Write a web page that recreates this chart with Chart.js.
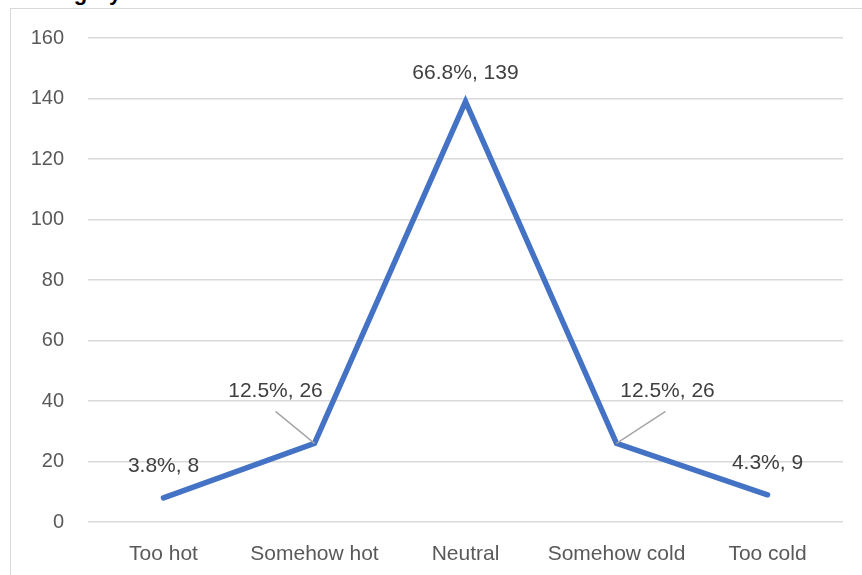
<!DOCTYPE html>
<html>
<head>
<meta charset="utf-8">
<script src="https://cdn.jsdelivr.net/npm/chart.js@4/dist/chart.umd.min.js"></script>
<style>
  html, body { margin: 0; padding: 0; background: #fff; overflow: hidden; }
  #wrap { position: relative; width: 862px; height: 575px; }
  #frame { position: absolute; left: 10px; top: 8px; width: 900px; height: 600px; border: 1.5px solid #d9d9d9; }
  #title { position: absolute; left: 26px; top: -20px; font: bold 22px "Liberation Sans", Arial, sans-serif; color: #000; }
  canvas { position: absolute; left: 0; top: 0; }
</style>
</head>
<body>
<div id="wrap">
  <div id="frame"></div>
  <div id="title">Category</div>
  <canvas id="chart" width="862" height="575"></canvas>
</div>
<script>
const categories = ["Too hot", "Somehow hot", "Neutral", "Somehow cold", "Too cold"];
const counts = [8, 26, 139, 26, 9];
const percents = ["3.8%", "12.5%", "66.8%", "12.5%", "4.3%"];
const yTicks = [0, 20, 40, 60, 80, 100, 120, 140, 160];

// label offsets from each point (dx, dy) and whether a leader line is drawn
const labelOffsets = [[0, -32, false], [-39, -52, true], [0, -28, false], [51, -52, true], [0, -32, false]];

const dataLabels = {
  id: "dataLabels",
  afterDatasetsDraw(chart) {
    const ctx = chart.ctx;
    const meta = chart.getDatasetMeta(0);
    ctx.save();
    ctx.font = "21px 'Liberation Sans', Arial, sans-serif";
    ctx.fillStyle = "#404040";
    ctx.textAlign = "center";
    ctx.textBaseline = "middle";
    meta.data.forEach((pt, i) => {
      const [dx, dy, leader] = labelOffsets[i];
      const lx = pt.x + dx, ly = pt.y + dy;
      if (leader) {
        ctx.strokeStyle = "#a6a6a6";
        ctx.lineWidth = 1.5;
        ctx.beginPath();
        ctx.moveTo(pt.x, pt.y);
        ctx.lineTo(dx < 0 ? lx : lx - 2, ly + 20);
        ctx.stroke();
      }
      ctx.fillText(percents[i] + ", " + counts[i], lx, ly);
    });
    ctx.restore();
  }
};

new Chart(document.getElementById("chart"), {
  type: "line",
  data: {
    labels: categories,
    datasets: [{
      data: counts,
      borderColor: "#4472c4",
      borderWidth: 5.5,
      pointRadius: 0,
      tension: 0,
      borderCapStyle: "round",
      fill: false
    }]
  },
  options: {
    responsive: false,
    animation: false,
    layout: { padding: { left: 10, right: 19, top: 38, bottom: 0 } },
    plugins: { legend: { display: false }, tooltip: { enabled: false } },
    scales: {
      x: {
        offset: true,
        grid: { display: false },
        border: { display: false },
        ticks: { color: "#595959", font: { family: "'Liberation Sans', Arial, sans-serif", size: 21 }, padding: 12, maxRotation: 0, autoSkip: false },
        afterFit: s => { s.height = 53; }
      },
      y: {
        min: 0,
        max: 160,
        afterBuildTicks: s => { s.ticks = yTicks.map(v => ({ value: v })); },
        grid: { color: "#d9d9d9", lineWidth: 1.5, drawTicks: false },
        border: { display: false },
        ticks: { color: "#595959", font: { family: "'Liberation Sans', Arial, sans-serif", size: 20 }, padding: 24 },
        afterFit: s => { s.width = 78; }
      }
    }
  },
  plugins: [dataLabels]
});
</script>
</body>
</html>
